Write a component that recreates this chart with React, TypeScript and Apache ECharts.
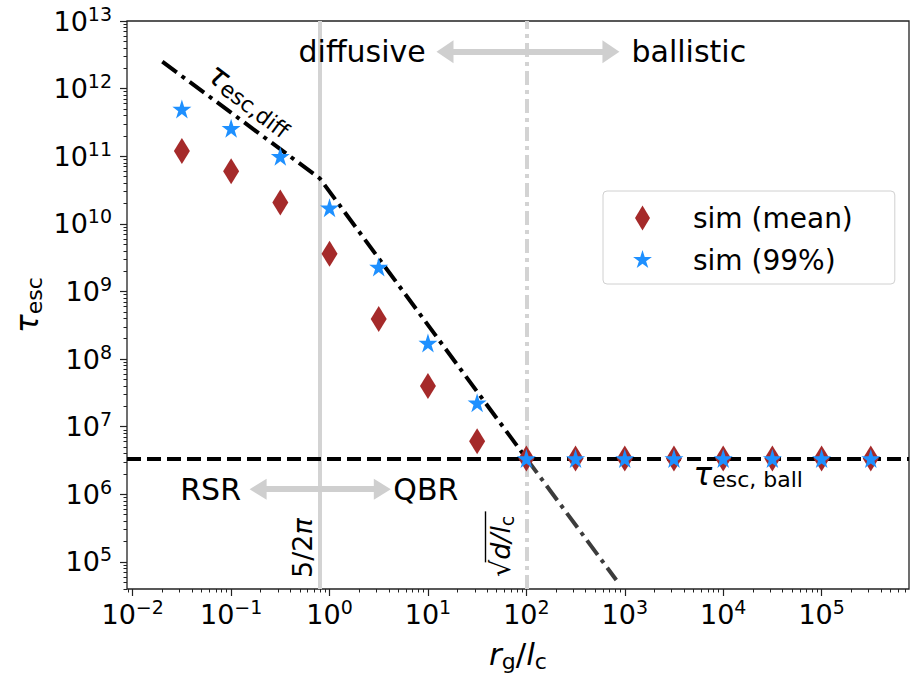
import React, { useEffect, useRef } from 'react';
import * as echarts from 'echarts';

const FONT = 'DejaVu Sans';

// ---- data ----
const rgOverLc = [0.0316, 0.1, 0.316, 1, 3.16, 10, 31.6, 100, 316, 1000, 3160, 10000, 31600, 100000, 316000];
const simMean = [1.2e11, 6.0e10, 2.07e10, 3.6e9, 3.9e8, 4.0e7, 6.1e6, 3.4e6, 3.4e6, 3.4e6, 3.4e6, 3.4e6, 3.4e6, 3.4e6, 3.4e6];
const sim99 = [5.0e11, 2.6e11, 1.0e11, 1.73e10, 2.3e9, 1.73e8, 2.26e7, 3.4e6, 3.4e6, 3.4e6, 3.4e6, 3.4e6, 3.4e6, 3.4e6, 3.4e6];

const diffLineX = [0.02, 0.7958, 100];
const diffLineY = [2.5e12, 4.7e10, 3.4e6];
const diffTailX = [100, 820];
const diffTailY = [3.4e6, 5.4e4];

const tauBall = 3.4e6;
const rsrQbrX = 5 / (2 * Math.PI);
const diffBallX = 100;

const regimeArrowX = [14.9, 723];
const regimeArrowY = 3.5e12;
const rsrArrowX = [0.188, 3.44];
const rsrArrowY = 1.19e6;

const xRange = [0.00875, 772700];
const yRange = [39800, 1e13];
const xMajor = [1e-2, 1e-1, 1e0, 1e1, 1e2, 1e3, 1e4, 1e5];
const yMajor = [1e5, 1e6, 1e7, 1e8, 1e9, 1e10, 1e11, 1e12, 1e13];

const minorOf = (lo: number, hi: number) => {
  const out: number[] = [];
  for (let e = lo; e <= hi; e++) for (let k = 2; k <= 9; k++) out.push(k * Math.pow(10, e));
  return out;
};
const xMinor = minorOf(-3, 5);
const yMinor = minorOf(4, 12);

// ---- shapes ----
const starPoints = (r: number) => {
  let d = '';
  for (let i = 0; i < 10; i++) {
    const a = -Math.PI / 2 + (i * Math.PI) / 5;
    const rr = i % 2 ? r * 0.382 : r;
    d += (i ? 'L' : 'M') + (rr * Math.cos(a)).toFixed(2) + ' ' + (rr * Math.sin(a)).toFixed(2) + ' ';
  }
  return d + 'Z';
};
const STAR_SYMBOL = 'path://' + starPoints(10);
const STAR_LEGEND = 'path://M-12 -12 L-11.95 -12 L-12 -11.95 Z M12 12 L11.95 12 L12 11.95 Z ' + starPoints(9.5);
const DIAMOND_LEGEND = 'path://M0 -12.5 L7.5 0 L0 12.5 L-7.5 0 Z';

const pow10Label = (v: number) => {
  const e = Math.round(Math.log10(v));
  return `{b|10}{s|${e < 0 ? '\u2212' + -e : e}}`;
};
const tickRich = {
  b: { fontSize: 27, lineHeight: 34, fontFamily: FONT, color: '#000' },
  s: { fontSize: 19, lineHeight: 16, verticalAlign: 'top', fontFamily: FONT, color: '#000' },
};
const nameRich = {
  i: { fontSize: 31, lineHeight: 36, fontStyle: 'italic', fontFamily: FONT, color: '#000' },
  n: { fontSize: 31, lineHeight: 36, fontFamily: FONT, color: '#000' },
  s: { fontSize: 22, lineHeight: 20, verticalAlign: 'bottom', fontFamily: FONT, color: '#000' },
};

const tickLine = { color: '#222', width: 1.2 };

function buildOption(): any {
  const common = { type: 'log', logBase: 10, splitLine: { show: false }, axisLine: { show: false }, gridIndex: 0 };
  return {
    animation: false,
    backgroundColor: '#fff',
    grid: { left: 127, right: 8, top: 21, bottom: 83, show: true, borderColor: '#222', borderWidth: 1.3, backgroundColor: 'transparent' },
    legend: {
      left: 603, top: 191, orient: 'vertical', itemWidth: 25, itemHeight: 25, itemGap: 12,
      padding: [12, 42, 9, 27], borderColor: '#d0d0d0', borderWidth: 1, borderRadius: 4,
      backgroundColor: 'rgba(255,255,255,0.85)', selectedMode: false,
      textStyle: { fontSize: 28, fontFamily: FONT, color: '#000', padding: [0, 0, 0, 33], lineHeight: 30 },
      data: [{ name: 'sim (mean)', icon: DIAMOND_LEGEND }, { name: 'sim (99%)', icon: STAR_LEGEND }],
    },
    xAxis: [
      {
        ...common, min: xRange[0], max: xRange[1], position: 'bottom',
        axisTick: { show: true, customValues: xMajor, length: 7, lineStyle: tickLine },
        axisLabel: { customValues: xMajor, formatter: pow10Label, margin: 8, rich: tickRich },
        name: '{i|r}{s|g}{n|/}{i|l}{s|c}', nameLocation: 'middle', nameGap: 47, nameMoveOverlap: false,
        nameTextStyle: { rich: nameRich },
      },
      {
        ...common, min: xRange[0], max: xRange[1], position: 'bottom',
        axisTick: { show: true, customValues: xMinor, length: 3.5, lineStyle: { color: '#222', width: 1 } },
        axisLabel: { show: false },
      },
    ],
    yAxis: [
      {
        ...common, min: yRange[0], max: yRange[1], position: 'left',
        axisTick: { show: true, customValues: yMajor, length: 7, lineStyle: tickLine },
        axisLabel: { customValues: yMajor, formatter: pow10Label, margin: 15, rich: tickRich },
        name: '{i|\u03c4}{s|esc}', nameLocation: 'middle', nameRotate: 90, nameGap: 82, nameMoveOverlap: false,
        nameTextStyle: { rich: nameRich },
      },
      {
        ...common, min: yRange[0], max: yRange[1], position: 'left',
        axisTick: { show: true, customValues: yMinor, length: 3.5, lineStyle: { color: '#222', width: 1 } },
        axisLabel: { show: false },
      },
    ],
    series: [
      {
        name: 'guides', type: 'line', data: [], z: 1, silent: true,
        markLine: {
          silent: true, symbol: 'none', label: { show: false }, z: 1,
          data: [
            { xAxis: rsrQbrX, lineStyle: { color: '#d3d3d3', width: 4, type: 'solid' } },
            { xAxis: diffBallX, lineStyle: { color: '#d3d3d3', width: 4, type: [14, 5, 4, 5] } },
            { yAxis: tauBall, lineStyle: { color: '#000', width: 4, type: [14, 6] } },
          ],
        },
      },
      {
        name: 'arrows', type: 'line', data: [], z: 1, silent: true,
        markLine: {
          silent: true, symbol: ['triangle', 'triangle'], symbolSize: [[22, 16], [22, 16]],
          label: { show: false }, z: 1,
          lineStyle: { color: '#cfcfcf', width: 6, type: 'solid' },
          data: [
            [
              { coord: [regimeArrowX[0], regimeArrowY], symbolSize: [23, 17] },
              { coord: [regimeArrowX[1], regimeArrowY], symbolSize: [23, 17] },
            ],
            [
              { coord: [rsrArrowX[0], rsrArrowY], symbolSize: [21, 17] },
              { coord: [rsrArrowX[1], rsrArrowY], symbolSize: [21, 17] },
            ],
          ],
        },
      },
      {
        name: 'diff', type: 'line', z: 3, silent: true, symbol: 'none', showSymbol: false,
        data: diffLineX.map((x, i) => [x, diffLineY[i]]),
        lineStyle: { color: '#000', width: 4, type: [18, 6, 4, 6] },
      },
      {
        name: 'diffTail', type: 'line', z: 3, silent: true, symbol: 'none', showSymbol: false,
        data: diffTailX.map((x, i) => [x, diffTailY[i]]),
        lineStyle: { color: '#3c3c3c', width: 4, type: [18, 6, 4, 6] },
      },
      {
        name: 'sim (mean)', type: 'scatter', z: 10, symbol: 'diamond', symbolSize: [16, 26],
        itemStyle: { color: '#a52a2a', opacity: 1 },
        data: rgOverLc.map((x, i) => [x, simMean[i]]),
      },
      {
        name: 'sim (99%)', type: 'scatter', z: 11, symbol: STAR_SYMBOL, symbolSize: [19, 19],
        itemStyle: { color: '#1e90ff', opacity: 1 },
        data: rgOverLc.map((x, i) => [x, sim99[i]]),
      },
    ],
  };
}

// annotation anchors in data coordinates
const annotations = [
  { text: 'diffusive', at: [9.5, 3.5e12], align: 'right' },
  { text: 'ballistic', at: [1170, 3.5e12], align: 'left' },
  { text: 'RSR', at: [0.126, 1.19e6], align: 'right' },
  { text: 'QBR', at: [4.45, 1.19e6], align: 'left' },
];
const tauDiffAt = [0.158, 7.0e11];
const tauBallAt = [5000, 2.0e6];
const fiveTwoPiAt = [0.533, 1.6e5];
const sqrtAt = [54.6, 1.7e5];

function buildGraphics(chart: any) {
  const P = (p: number[]) => chart.convertToPixel({ xAxisIndex: 0, yAxisIndex: 0 }, p) as number[];
  const g: any[] = [];
  annotations.forEach((a) => {
    const [x, y] = P(a.at);
    g.push({
      type: 'text', x, y, z: 50, silent: true,
      style: { text: a.text, fontSize: 30, fontFamily: FONT, fill: '#000', align: a.align, verticalAlign: 'middle' },
    });
  });
  const subRich = {
    t: { fontSize: 31, lineHeight: 34, fontStyle: 'italic', fontFamily: FONT, fill: '#000' },
    s: { fontSize: 22, lineHeight: 20, verticalAlign: 'bottom', fontFamily: FONT, fill: '#000' },
    n: { fontSize: 27, lineHeight: 32, fontFamily: FONT, fill: '#000' },
    i: { fontSize: 27, lineHeight: 32, fontStyle: 'italic', fontFamily: FONT, fill: '#000' },
    c: { fontSize: 19, lineHeight: 18, verticalAlign: 'bottom', fontFamily: FONT, fill: '#000' },
  };
  {
    const [x, y] = P(tauDiffAt);
    g.push({
      type: 'text', x, y, rotation: (-37 * Math.PI) / 180, z: 50, silent: true,
      style: { text: '{t|\u03c4}{s|esc,diff}', rich: subRich, align: 'center', verticalAlign: 'middle' },
    });
  }
  {
    const [x, y] = P(tauBallAt);
    g.push({
      type: 'text', x, y, z: 50, silent: true,
      style: { text: '{t|\u03c4}{s|esc, ball}', rich: subRich, align: 'left', verticalAlign: 'middle' },
    });
  }
  {
    const [x, y] = P(fiveTwoPiAt);
    g.push({
      type: 'text', x, y, rotation: Math.PI / 2, z: 50, silent: true,
      style: { text: '{n|5/2}{i|\u03c0}', rich: subRich, align: 'center', verticalAlign: 'middle' },
    });
  }
  {
    const [x, y] = P(sqrtAt);
    g.push({
      type: 'group', x, y, rotation: Math.PI / 2, z: 50, silent: true,
      children: [
        { type: 'text', style: { text: '{n|\u221a}{i|d/l}{c|c}', rich: subRich, align: 'center', verticalAlign: 'middle' } },
        { type: 'line', shape: { x1: -16, y1: -15, x2: 35, y2: -15 }, style: { stroke: '#000', lineWidth: 1.4 } },
      ],
    });
  }
  return g;
}

export default function App() {
  const ref = useRef<HTMLDivElement>(null);
  useEffect(() => {
    const chart = echarts.init(ref.current!, null, { renderer: 'svg' });
    chart.setOption(buildOption());
    chart.setOption({ graphic: buildGraphics(chart) });
    return () => chart.dispose();
  }, []);
  return (
    <div
      ref={ref}
      style={{ position: 'absolute', left: 0, top: 0, width: 917, height: 677, background: '#fff' }}
    />
  );
}
